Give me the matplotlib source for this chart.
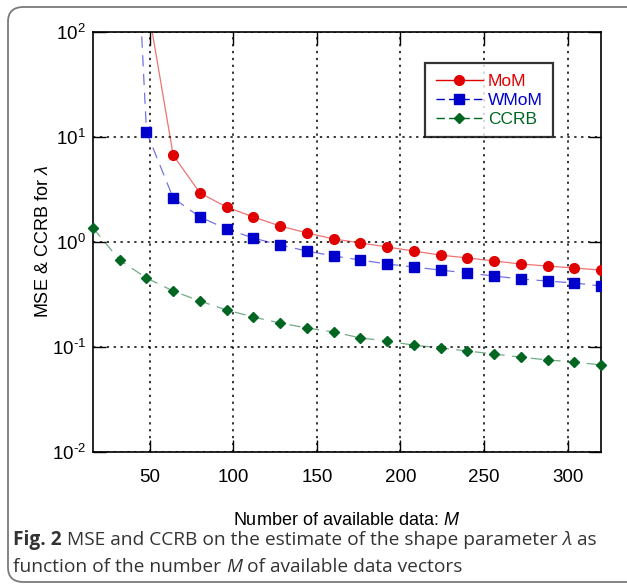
import matplotlib
matplotlib.use("Agg")
import matplotlib.pyplot as plt
from matplotlib.patches import FancyBboxPatch
from matplotlib.lines import Line2D
from matplotlib.ticker import FuncFormatter, NullLocator
import numpy as np

M = [16, 32, 48, 64, 80, 96, 112, 128, 144, 160, 176, 192, 208, 224, 240, 256, 272, 288, 304, 320]
mom = [None, 5000.0, 210.0, 6.7, 2.93, 2.15, 1.73, 1.42, 1.22, 1.07, 0.98, 0.896, 0.82, 0.75, 0.705, 0.66, 0.617, 0.59, 0.565, 0.54]
wmom = [None, 1.5e6, 11.2, 2.62, 1.73, 1.33, 1.09, 0.935, 0.82, 0.736, 0.674, 0.617, 0.578, 0.54, 0.507, 0.474, 0.444, 0.425, 0.407, 0.381]
ccrb = [1.36, 0.67, 0.454, 0.341, 0.274, 0.225, 0.193, 0.169, 0.152, 0.139, 0.122, 0.114, 0.104, 0.098, 0.0916, 0.0857, 0.080, 0.0752, 0.072, 0.0674]

x_ticks = [50, 100, 150, 200, 250, 300]
y_ticks = [1e-2, 1e-1, 1e0, 1e1, 1e2]
series_names = ["MoM", "WMoM", "CCRB"]

plt.rcParams['font.family'] = ['Liberation Sans', 'DejaVu Sans']
plt.rcParams['mathtext.fontset'] = 'custom'
plt.rcParams['mathtext.rm'] = 'Liberation Sans'
plt.rcParams['mathtext.it'] = 'Liberation Sans:italic'

W, H = 627, 585
fig = plt.figure(figsize=(W / 100, H / 100), dpi=100)

# outer rounded frame
frame = FancyBboxPatch((8 / W, 3 / H), (650 - 8) / W, (580 - 5) / H,
                       boxstyle="round,pad=0,rounding_size=0.025",
                       transform=fig.transFigure, facecolor='none',
                       edgecolor='#7a7a7a', lw=1.3, zorder=0)
fig.patches.append(frame)

ax = fig.add_axes([93 / W, 1 - 452 / H, (601 - 93) / W, (452 - 32) / H])

red = '#e00000'
blue = '#0000cc'
green = '#006622'

def arr(v):
    return np.array([np.nan if a is None else a for a in v], dtype=float)

ax.plot(M, arr(mom), color=red, lw=0.9, alpha=0.55, zorder=2)
ax.plot(M, arr(mom), ls='none', marker='o', ms=7, color=red, mec=red, zorder=3)
ax.plot(M, arr(wmom), color=blue, lw=0.9, alpha=0.55, ls=(0, (9, 6)), zorder=2)
ax.plot(M, arr(wmom), ls='none', marker='s', ms=6.6, color=blue, mec=blue, zorder=3)
ax.plot(M, arr(ccrb), color=green, lw=0.9, alpha=0.55, ls=(0, (9, 6)), zorder=2)
ax.plot(M, arr(ccrb), ls='none', marker='D', ms=5, color=green, mec=green, zorder=3, clip_on=False)

ax.set_yscale('log')
ax.set_xlim(16, 320)
ax.set_ylim(1e-2, 1e2)
ax.set_xticks(x_ticks)
ax.set_yticks(y_ticks)
ax.yaxis.set_minor_locator(NullLocator())

def yfmt(v, pos):
    e = int(round(np.log10(v)))
    es = str(e).replace('-', '\u2010')
    return '$10^{%s}$' % es

ax.yaxis.set_major_formatter(FuncFormatter(yfmt))
ax.tick_params(which='both', direction='in', length=9, width=1, top=True, right=True,
               labelsize=13.5, pad=12, colors='black')
ax.tick_params(axis='y', pad=5)
ax.grid(True, which='major', ls=(0, (1.5, 3)), color='black', lw=1.1)
for s in ax.spines.values():
    s.set_linewidth(1.2)

ax.set_xlabel('Number of available data: $\\mathit{M}$', fontsize=13, labelpad=19)
ax.set_ylabel('MSE & CCRB for $\\lambda$', fontsize=13)
ax.yaxis.set_label_coords(-0.080, 0.5)

handles = [
    Line2D([], [], color=red, lw=1, marker='o', ms=7),
    Line2D([], [], color=blue, lw=1, ls=(0, (6, 3)), marker='s', ms=6.6),
    Line2D([], [], color=green, lw=1, ls=(0, (6, 3)), marker='D', ms=5),
]
leg = ax.legend(handles, series_names, loc='upper right', bbox_to_anchor=(0.906, 0.926),
                fontsize=12.5, frameon=True, fancybox=False, edgecolor='black',
                handlelength=2.7, handletextpad=0.3, borderpad=0.6, labelspacing=0.22,
                borderaxespad=0)
leg.get_frame().set_linewidth(1.6)
for t, c in zip(leg.get_texts(), [red, blue, green]):
    t.set_color(c)

# caption
cap_font = ['Open Sans', 'DejaVu Sans']
cap_size = 13.8
renderer = fig.canvas.get_renderer()

def draw_pieces(pieces, x0, y0):
    x = x0
    for txt, weight, style in pieces:
        t = fig.text(x / W, 1 - y0 / H, txt, fontsize=cap_size, family=cap_font,
                     weight=weight, style=style, color='#333333', va='baseline', ha='left')
        bb = t.get_window_extent(renderer=renderer)
        x += bb.width

draw_pieces([("Fig. 2", 'bold', 'normal'),
             (" MSE and CCRB on the estimate of the shape parameter ", 'normal', 'normal'),
             ("λ", 'normal', 'italic'),
             (" as", 'normal', 'normal')], 13, 545)
draw_pieces([("function of the number ", 'normal', 'normal'),
             ("M", 'normal', 'italic'),
             (" of available data vectors", 'normal', 'normal')], 13, 572)

fig.savefig('out.png', dpi=100)
